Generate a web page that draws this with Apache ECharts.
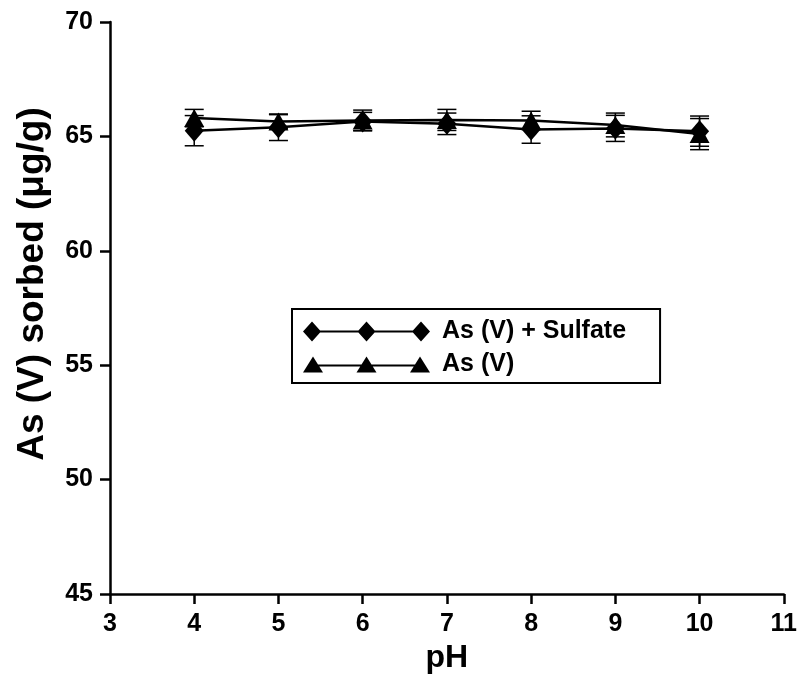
<!DOCTYPE html>
<html>
<head>
<meta charset="utf-8">
<script src="https://cdn.jsdelivr.net/npm/echarts@6/dist/echarts.min.js"></script>
<style>
  html, body { margin: 0; padding: 0; background: #fff; }
  #chart { width: 800px; height: 681px; }
</style>
</head>
<body>
<div id="chart"></div>
<script>
// pH values tested
const ph = [4, 5, 6, 7, 8, 9, 10];
// As(V) sorbed with sulfate present (µg/g) and standard deviations
const sulfate = [65.25, 65.4, 65.65, 65.55, 65.3, 65.35, 65.23];
const sulfateErr = [0.66, 0.58, 0.4, 0.47, 0.6, 0.57, 0.66];
// As(V) sorbed alone (µg/g) and standard deviations
const asv = [65.8, 65.65, 65.7, 65.72, 65.7, 65.5, 65.1];
const asvErr = [0.38, 0.3, 0.45, 0.46, 0.4, 0.52, 0.68];

const seriesNames = ['As (V) + Sulfate', 'As (V)'];
const xTicks = [3, 4, 5, 6, 7, 8, 9, 10, 11];
const yTicks = [45, 50, 55, 60, 65, 70];

const FONT = 'Arial, "Liberation Sans", sans-serif';

// legend icons: a line with three markers
const diamondIcon = 'path://M0,10 L9,0 L18,10 L9,20 Z M54.5,10 L63.5,0 L72.5,10 L63.5,20 Z M109,10 L118,0 L127,10 L118,20 Z M9,9 L118,9 L118,11 L9,11 Z';
const triangleIcon = 'path://M0,16 L10,0 L20,16 Z M53.5,16 L63.5,0 L73.5,16 Z M107,16 L117,0 L127,16 Z M10,8 L117,8 L117,10 L10,10 Z';

function errorSeries(vals, errs) {
  return {
    type: 'custom',
    silent: true,
    z: 5,
    encode: { x: 0, y: [1, 2] },
    data: ph.map((x, i) => [x, vals[i] - errs[i], vals[i] + errs[i]]),
    renderItem: function (params, api) {
      const x = api.value(0);
      const top = api.coord([x, api.value(2)]);
      const bot = api.coord([x, api.value(1)]);
      const hw = 9.5;
      const st = { stroke: '#000', lineWidth: 1.5 };
      return {
        type: 'group',
        children: [
          { type: 'line', shape: { x1: top[0], y1: top[1], x2: bot[0], y2: bot[1] }, style: st },
          { type: 'line', shape: { x1: top[0] - hw, y1: top[1], x2: top[0] + hw, y2: top[1] }, style: st },
          { type: 'line', shape: { x1: bot[0] - hw, y1: bot[1], x2: bot[0] + hw, y2: bot[1] }, style: st }
        ]
      };
    }
  };
}

const chart = echarts.init(document.getElementById('chart'), null, { renderer: 'canvas' });

chart.setOption({
  animation: false,
  backgroundColor: '#fff',
  grid: { left: 110, right: 15, top: 22, bottom: 87, containLabel: false },
  xAxis: {
    type: 'value',
    min: xTicks[0],
    max: xTicks[xTicks.length - 1],
    interval: 1,
    name: 'pH',
    nameLocation: 'middle',
    nameGap: 48,
    nameTextStyle: { fontFamily: FONT, fontWeight: 'bold', fontSize: 32, color: '#000' },
    axisLine: { lineStyle: { color: '#000', width: 2.5 } },
    axisTick: { inside: false, length: 10, lineStyle: { color: '#000', width: 2.5 } },
    axisLabel: { margin: 18, fontFamily: FONT, fontWeight: 'bold', fontSize: 25, color: '#000' },
    splitLine: { show: false }
  },
  yAxis: {
    type: 'value',
    min: yTicks[0],
    max: yTicks[yTicks.length - 1],
    interval: 5,
    name: 'As (V) sorbed (μg/g)',
    nameLocation: 'middle',
    nameGap: 59,
    nameTextStyle: { fontFamily: FONT, fontWeight: 'bold', fontSize: 37, color: '#000', padding: [0, 0, 0, 48] },
    axisLine: { lineStyle: { color: '#000', width: 2.5 } },
    axisTick: { inside: false, length: 10, lineStyle: { color: '#000', width: 2.5 } },
    axisLabel: { margin: 17, fontFamily: FONT, fontWeight: 'bold', fontSize: 25, color: '#000' },
    splitLine: { show: false }
  },
  legend: {
    orient: 'vertical',
    left: 292,
    top: 309,
    padding: [10, 34, 6, 11],
    itemGap: 8,
    itemWidth: 127,
    itemHeight: 22,
    borderColor: '#000',
    borderWidth: 2,
    borderRadius: 0,
    backgroundColor: '#fff',
    textStyle: { fontFamily: FONT, fontWeight: 'bold', fontSize: 25, color: '#000', padding: [0, 0, 0, 7] },
    data: [
      { name: seriesNames[0], icon: diamondIcon },
      { name: seriesNames[1], icon: triangleIcon }
    ]
  },
  series: [
    {
      name: seriesNames[0],
      type: 'line',
      data: ph.map((x, i) => [x, sulfate[i]]),
      symbol: 'diamond',
      symbolSize: [19, 22],
      lineStyle: { color: '#000', width: 2.5 },
      itemStyle: { color: '#000' },
      z: 3
    },
    {
      name: seriesNames[1],
      type: 'line',
      data: ph.map((x, i) => [x, asv[i]]),
      symbol: 'triangle',
      symbolSize: [20, 18],
      lineStyle: { color: '#000', width: 2.5 },
      itemStyle: { color: '#000' },
      z: 3
    },
    errorSeries(sulfate, sulfateErr),
    errorSeries(asv, asvErr)
  ]
});
</script>
</body>
</html>
